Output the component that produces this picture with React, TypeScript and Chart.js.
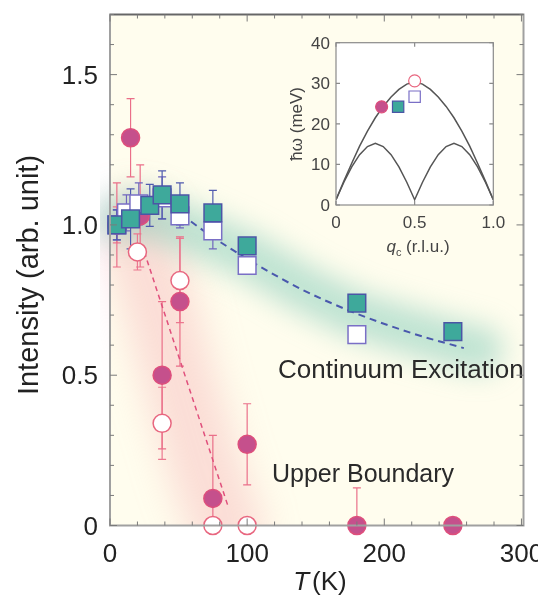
import { useEffect, useRef } from 'react';
import { Chart, registerables } from 'chart.js';

Chart.register(...registerables);

// ---------------- main panel data ----------------
const xTickValues = [0, 100, 200, 300];
const xTickLabels = ['0', '100', '200', '300'];
const yTickValues = [0, 0.5, 1.0, 1.5];
const yTickLabels = ['0', '0.5', '1.0', '1.5'];

// Continuum excitation, filled (teal) squares
const contFilledT = [5, 15, 29, 38, 51, 75, 100, 180, 250];
const contFilledI = [1.0, 1.02, 1.065, 1.1, 1.07, 1.04, 0.93, 0.74, 0.645];
const contFilledErr = [0.05, 0.1, 0.07, 0.08, 0.07, 0.075, 0, 0, 0];

// Continuum excitation, open squares
const contOpenT = [5, 12, 21, 38, 51, 75, 100, 180];
const contOpenI = [1.0, 1.04, 1.07, 1.09, 1.03, 0.98, 0.865, 0.635];
const contOpenErr = [0.05, 0.06, 0.07, 0.07, 0.04, 0.06, 0, 0];

// Upper boundary, filled (magenta) circles
const upFilledT = [5, 15, 22, 38, 51, 75, 100, 180, 250];
const upFilledI = [1.0, 1.29, 1.03, 0.5, 0.745, 0.09, 0.27, 0, 0];
const upFilledErr = [0.14, 0.13, 0.17, 0.245, 0.215, 0.21, 0.135, 0.125, 0];

// Upper boundary, open circles
const upOpenT = [5, 20, 38, 51, 75, 100];
const upOpenI = [1.0, 0.91, 0.34, 0.815, 0, 0];
const upOpenErr = [0.06, 0.06, 0.12, 0.14, 0, 0];

// Dashed guide lines
const fitBlueT = [52, 70, 90, 110, 140, 177, 220, 258];
const fitBlueI = [1.035, 0.975, 0.915, 0.86, 0.785, 0.71, 0.64, 0.59];
const fitPinkT = [25, 86];
const fitPinkI = [0.91, 0.065];

// Soft shaded bands
const tealGlowT = [5, 25, 50, 100, 140, 180, 220, 255, 270];
const tealGlowI = [1.02, 1.04, 1.0, 0.9, 0.79, 0.7, 0.645, 0.6, 0.585];
const pinkGlowT = [18, 35, 52, 70, 86];
const pinkGlowI = [0.98, 0.75, 0.46, 0.18, -0.02];

// ---------------- inset data ----------------
const insetQ = [0, 0.05, 0.1, 0.15, 0.2, 0.25, 0.3, 0.35, 0.4, 0.45, 0.5, 0.55, 0.6, 0.65, 0.7, 0.75, 0.8, 0.85, 0.9, 0.95, 1.0];
const insetUpper = [1.3, 5.9, 10.3, 14.5, 18.2, 21.5, 24.3, 26.6, 28.5, 29.8, 30.3, 29.8, 28.5, 26.6, 24.3, 21.5, 18.2, 14.5, 10.3, 5.9, 1.3];
const insetLower = [1.3, 5.6, 9.4, 12.4, 14.4, 15.2, 14.4, 12.4, 9.4, 5.6, 1.3, 5.6, 9.4, 12.4, 14.4, 15.2, 14.4, 12.4, 9.4, 5.6, 1.3];
const insetXTicks = [0, 0.5, 1.0];
const insetXLabels = ['0', '0.5', '1.0'];
const insetYTicks = [0, 10, 20, 30, 40];
const insetYLabels = ['0', '10', '20', '30', '40'];
const insetFilledCircleQ = [0.29];
const insetFilledCircleW = [24.2];
const insetTealSquareQ = [0.395];
const insetTealSquareW = [24.2];
const insetOpenSquareQ = [0.5];
const insetOpenSquareW = [26.7];
const insetOpenCircleQ = [0.5];
const insetOpenCircleW = [30.6];

const FONT = "'Liberation Sans', Arial, Helvetica, sans-serif";
const TEAL = '#3ea99b';
const SQ_BORDER = '#4b55a6';
const OPEN_SQ_BORDER = '#7a6fc6';
const MAGENTA = '#c5508c';
const MAG_BORDER = '#de4f7c';
const OPEN_CIRC_BORDER = '#e8667f';

const toPts = (xs: number[], ys: number[]) => xs.map((x, i) => ({ x, y: ys[i] }));

const mainPlugin = {
  id: 'mainDecor',
  beforeDraw(chart: any) {
    const { ctx, chartArea: a } = chart;
    ctx.save();
    ctx.fillStyle = '#fffdee';
    ctx.fillRect(a.left, a.top, a.right - a.left, a.bottom - a.top);
    ctx.restore();
  },
  beforeDatasetsDraw(chart: any) {
    const { ctx, chartArea: a } = chart;
    const xs = chart.scales.x;
    const ys = chart.scales.y;
    const glow = (T: number[], I: number[], color: string, width: number, blur: number) => {
      ctx.save();
      ctx.beginPath();
      ctx.rect(a.left - 10, a.top, a.right - a.left + 10, a.bottom - a.top);
      ctx.clip();
      ctx.filter = `blur(${blur}px)`;
      ctx.strokeStyle = color;
      ctx.lineWidth = width;
      ctx.lineCap = 'round';
      ctx.lineJoin = 'round';
      ctx.beginPath();
      T.forEach((t, i) => {
        const px = xs.getPixelForValue(t);
        const py = ys.getPixelForValue(I[i]);
        if (i === 0) ctx.moveTo(px, py);
        else ctx.lineTo(px, py);
      });
      ctx.stroke();
      ctx.restore();
    };
    glow(pinkGlowT, pinkGlowI, 'rgba(242,150,160,0.30)', 72, 18);
    glow(tealGlowT, tealGlowI, 'rgba(100,190,172,0.42)', 46, 14);

    const bars = (T: number[], I: number[], E: number[], color: string) => {
      ctx.save();
      ctx.beginPath();
      ctx.rect(a.left, a.top, a.right - a.left, a.bottom - a.top);
      ctx.clip();
      ctx.strokeStyle = color;
      ctx.lineWidth = 1.2;
      T.forEach((t, i) => {
        if (!E[i]) return;
        const px = xs.getPixelForValue(t);
        const top = ys.getPixelForValue(I[i] + E[i]);
        const bot = ys.getPixelForValue(I[i] - E[i]);
        ctx.beginPath();
        ctx.moveTo(px, top);
        ctx.lineTo(px, bot);
        ctx.moveTo(px - 4, top);
        ctx.lineTo(px + 4, top);
        ctx.moveTo(px - 4, bot);
        ctx.lineTo(px + 4, bot);
        ctx.stroke();
      });
      ctx.restore();
    };
    bars(upOpenT, upOpenI, upOpenErr, '#ec7890');
    bars(upFilledT, upFilledI, upFilledErr, '#ea6f89');
    bars(contOpenT, contOpenI, contOpenErr, '#6f66bd');
    bars(contFilledT, contFilledI, contFilledErr, '#4f5aae');
  },
  afterDatasetsDraw(chart: any) {
    const { ctx, chartArea: a } = chart;
    const xs = chart.scales.x;
    const ys = chart.scales.y;
    ctx.save();
    // annotations
    ctx.fillStyle = '#2a2a2a';
    ctx.textAlign = 'left';
    ctx.textBaseline = 'alphabetic';
    ctx.font = `26px ${FONT}`;
    ctx.fillText('Continuum Excitation', 278, 378);
    ctx.font = `25px ${FONT}`;
    ctx.fillText('Upper Boundary', 272, 482);

    // frame
    ctx.lineWidth = 2;
    ctx.strokeStyle = '#a0a0a0';
    ctx.strokeRect(a.left, a.top, a.right - a.left, a.bottom - a.top);
    ctx.strokeStyle = '#666';
    ctx.lineWidth = 1.5;
    ctx.beginPath();
    ctx.moveTo(a.left, a.top);
    ctx.lineTo(a.right, a.top);
    ctx.stroke();

    // ticks (inward, mirrored)
    ctx.strokeStyle = '#7a7a7a';
    ctx.lineWidth = 1;
    ctx.beginPath();
    for (let k = 0; k <= 15; k++) {
      const v = k * 20;
      const px = xs.getPixelForValue(v);
      const len = v % 100 === 0 ? 7 : 4;
      ctx.moveTo(px, a.bottom);
      ctx.lineTo(px, a.bottom - len);
      ctx.moveTo(px, a.top);
      ctx.lineTo(px, a.top + len);
    }
    for (let k = 0; k <= 17; k++) {
      const v = k / 10;
      const py = ys.getPixelForValue(v);
      const len = k % 5 === 0 ? 7 : 4;
      ctx.moveTo(a.left, py);
      ctx.lineTo(a.left + len, py);
      ctx.moveTo(a.right, py);
      ctx.lineTo(a.right - len, py);
    }
    ctx.stroke();

    // tick labels
    ctx.fillStyle = '#222';
    ctx.font = `26px ${FONT}`;
    ctx.textAlign = 'center';
    ctx.textBaseline = 'alphabetic';
    xTickValues.forEach((v, i) => {
      ctx.fillText(xTickLabels[i], xs.getPixelForValue(v), 562);
    });
    ctx.textAlign = 'right';
    yTickValues.forEach((v, i) => {
      ctx.fillText(yTickLabels[i], 98, ys.getPixelForValue(v) + 9);
    });

    // axis titles
    ctx.save();
    ctx.translate(30, 275);
    ctx.rotate(-Math.PI / 2);
    ctx.textAlign = 'center';
    ctx.textBaseline = 'middle';
    ctx.font = `29px ${FONT}`;
    ctx.fillText('Intensity (arb. unit)', 0, 0);
    ctx.restore();

    ctx.textAlign = 'left';
    ctx.textBaseline = 'alphabetic';
    ctx.font = `italic 26px ${FONT}`;
    const tW = ctx.measureText('T').width;
    ctx.font = `26px ${FONT}`;
    const kW = ctx.measureText('(K)').width;
    const gap = 3;
    const startX = 320 - (tW + gap + kW) / 2;
    ctx.font = `italic 26px ${FONT}`;
    ctx.fillText('T', startX, 590);
    ctx.font = `26px ${FONT}`;
    ctx.fillText('(K)', startX + tW + gap, 590);
    ctx.restore();
  },
};

const insetPlugin = {
  id: 'insetDecor',
  beforeDraw(chart: any) {
    const { ctx, chartArea: a } = chart;
    ctx.save();
    ctx.fillStyle = '#ffffff';
    ctx.fillRect(a.left, a.top, a.right - a.left, a.bottom - a.top);
    ctx.restore();
  },
  afterDatasetsDraw(chart: any) {
    const { ctx, chartArea: a } = chart;
    const xs = chart.scales.x;
    const ys = chart.scales.y;
    ctx.save();
    ctx.strokeStyle = '#8a8a8a';
    ctx.lineWidth = 1.2;
    ctx.strokeRect(a.left, a.top, a.right - a.left, a.bottom - a.top);
    ctx.beginPath();
    insetXTicks.forEach((v) => {
      const px = xs.getPixelForValue(v);
      ctx.moveTo(px, a.bottom);
      ctx.lineTo(px, a.bottom - 4);
      ctx.moveTo(px, a.top);
      ctx.lineTo(px, a.top + 4);
    });
    insetYTicks.forEach((v) => {
      const py = ys.getPixelForValue(v);
      ctx.moveTo(a.left, py);
      ctx.lineTo(a.left + 4, py);
      ctx.moveTo(a.right, py);
      ctx.lineTo(a.right - 4, py);
    });
    ctx.stroke();

    ctx.fillStyle = '#444';
    ctx.font = `17px ${FONT}`;
    ctx.textAlign = 'center';
    ctx.textBaseline = 'alphabetic';
    insetXTicks.forEach((v, i) => {
      ctx.fillText(insetXLabels[i], xs.getPixelForValue(v), a.bottom + 23);
    });
    ctx.textAlign = 'right';
    insetYTicks.forEach((v, i) => {
      ctx.fillText(insetYLabels[i], a.left - 6, ys.getPixelForValue(v) + 6);
    });

    // x title: q_c (r.l.u.)
    ctx.textAlign = 'left';
    ctx.font = `italic 17px ${FONT}`;
    const qW = ctx.measureText('q').width;
    ctx.font = `11px ${FONT}`;
    const cW = ctx.measureText('c').width;
    ctx.font = `17px ${FONT}`;
    const rest = ' (r.l.u.)';
    const rW = ctx.measureText(rest).width;
    const total = qW + cW + rW;
    let x0 = 138 - total / 2;
    const base = 222;
    ctx.font = `italic 17px ${FONT}`;
    ctx.fillText('q', x0, base);
    x0 += qW;
    ctx.font = `11px ${FONT}`;
    ctx.fillText('c', x0, base + 4);
    x0 += cW;
    ctx.font = `17px ${FONT}`;
    ctx.fillText(rest, x0, base);

    // y title
    ctx.save();
    ctx.translate(17, (a.top + a.bottom) / 2);
    ctx.rotate(-Math.PI / 2);
    ctx.textAlign = 'center';
    ctx.textBaseline = 'middle';
    ctx.font = `17px ${FONT}`;
    ctx.fillText('ħω (meV)', 0, 0);
    ctx.restore();
    ctx.restore();
  },
};

export default function App() {
  const mainRef = useRef<HTMLCanvasElement>(null);
  const insetRef = useRef<HTMLCanvasElement>(null);

  useEffect(() => {
    document.body.style.margin = '0';
    const main = new Chart(mainRef.current as HTMLCanvasElement, {
      type: 'scatter',
      data: {
        datasets: [
          {
            label: 'Continuum (filled)',
            data: toPts(contFilledT, contFilledI),
            pointStyle: 'rect',
            pointRadius: 12.5,
            backgroundColor: TEAL,
            borderColor: SQ_BORDER,
            borderWidth: 1.5,
            order: 0,
            clip: false,
          },
          {
            label: 'Continuum (open)',
            data: toPts(contOpenT, contOpenI),
            pointStyle: 'rect',
            pointRadius: 12.5,
            backgroundColor: '#ffffff',
            borderColor: OPEN_SQ_BORDER,
            borderWidth: 1.5,
            order: 1,
            clip: false,
          },
          {
            label: 'Upper boundary (filled)',
            data: toPts(upFilledT, upFilledI),
            pointStyle: 'circle',
            pointRadius: 9,
            backgroundColor: MAGENTA,
            borderColor: MAG_BORDER,
            borderWidth: 1.5,
            order: 2,
            clip: false,
          },
          {
            label: 'Upper boundary (open)',
            data: toPts(upOpenT, upOpenI),
            pointStyle: 'circle',
            pointRadius: 9,
            backgroundColor: '#ffffff',
            borderColor: OPEN_CIRC_BORDER,
            borderWidth: 1.5,
            order: 3,
            clip: false,
          },
          {
            label: 'Continuum guide',
            data: toPts(fitBlueT, fitBlueI),
            showLine: true,
            pointRadius: 0,
            borderColor: '#4a58ad',
            borderWidth: 2,
            borderDash: [7, 5],
            cubicInterpolationMode: 'monotone',
            order: 4,
          },
          {
            label: 'Upper boundary guide',
            data: toPts(fitPinkT, fitPinkI),
            showLine: true,
            pointRadius: 0,
            borderColor: '#e0507c',
            borderWidth: 1.5,
            borderDash: [5, 4],
            order: 5,
          },
        ],
      } as any,
      options: {
        responsive: false,
        animation: false,
        events: [],
        layout: { padding: { top: 14.5, right: 14.5, left: 0, bottom: 0 } },
        plugins: { legend: { display: false }, tooltip: { enabled: false } },
        scales: {
          x: {
            type: 'linear',
            min: 0,
            max: 301.5,
            ticks: { display: false },
            grid: { display: false },
            border: { display: false },
            afterFit: (s: any) => {
              s.height = 71.5;
            },
          },
          y: {
            type: 'linear',
            min: 0,
            max: 1.7,
            ticks: { display: false },
            grid: { display: false },
            border: { display: false },
            afterFit: (s: any) => {
              s.width = 110;
            },
          },
        },
      } as any,
      plugins: [mainPlugin],
    });

    const inset = new Chart(insetRef.current as HTMLCanvasElement, {
      type: 'scatter',
      data: {
        datasets: [
          {
            label: 'Filled circle',
            data: toPts(insetFilledCircleQ, insetFilledCircleW),
            pointStyle: 'circle',
            pointRadius: 6,
            backgroundColor: MAGENTA,
            borderColor: MAG_BORDER,
            borderWidth: 1.2,
            order: 0,
            clip: false,
          },
          {
            label: 'Teal square',
            data: toPts(insetTealSquareQ, insetTealSquareW),
            pointStyle: 'rect',
            pointRadius: 8,
            backgroundColor: TEAL,
            borderColor: SQ_BORDER,
            borderWidth: 1.2,
            order: 1,
            clip: false,
          },
          {
            label: 'Open square',
            data: toPts(insetOpenSquareQ, insetOpenSquareW),
            pointStyle: 'rect',
            pointRadius: 8,
            backgroundColor: '#ffffff',
            borderColor: OPEN_SQ_BORDER,
            borderWidth: 1.2,
            order: 2,
            clip: false,
          },
          {
            label: 'Open circle',
            data: toPts(insetOpenCircleQ, insetOpenCircleW),
            pointStyle: 'circle',
            pointRadius: 6,
            backgroundColor: '#ffffff',
            borderColor: OPEN_CIRC_BORDER,
            borderWidth: 1.2,
            order: 3,
            clip: false,
          },
          {
            label: 'Upper dispersion',
            data: toPts(insetQ, insetUpper),
            showLine: true,
            pointRadius: 0,
            borderColor: '#555',
            borderWidth: 1.5,
            order: 4,
          },
          {
            label: 'Lower dispersion',
            data: toPts(insetQ, insetLower),
            showLine: true,
            pointRadius: 0,
            borderColor: '#555',
            borderWidth: 1.5,
            order: 5,
          },
        ],
      } as any,
      options: {
        responsive: false,
        animation: false,
        events: [],
        layout: { padding: { top: 12.7, right: 16.7, left: 0, bottom: 0 } },
        plugins: { legend: { display: false }, tooltip: { enabled: false } },
        scales: {
          x: {
            type: 'linear',
            min: 0,
            max: 1,
            ticks: { display: false },
            grid: { display: false },
            border: { display: false },
            afterFit: (s: any) => {
              s.height = 60;
            },
          },
          y: {
            type: 'linear',
            min: 0,
            max: 40,
            ticks: { display: false },
            grid: { display: false },
            border: { display: false },
            afterFit: (s: any) => {
              s.width = 56;
            },
          },
        },
      } as any,
      plugins: [insetPlugin],
    });

    return () => {
      main.destroy();
      inset.destroy();
    };
  }, []);

  return (
    <div style={{ position: 'relative', width: 538, height: 597, background: '#ffffff' }}>
      <canvas
        ref={mainRef}
        width={538}
        height={597}
        style={{ position: 'absolute', left: 0, top: 0 }}
      />
      <canvas
        ref={insetRef}
        width={230}
        height={235}
        style={{ position: 'absolute', left: 280, top: 30 }}
      />
    </div>
  );
}
